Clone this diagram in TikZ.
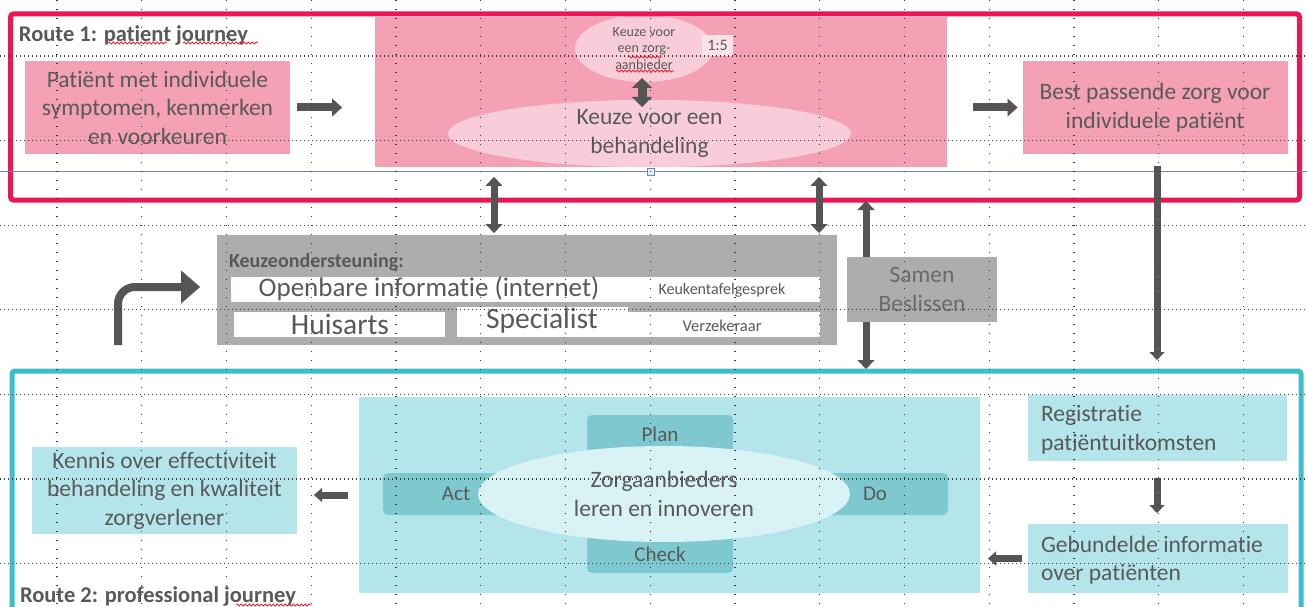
\documentclass[tikz,border=0pt]{standalone}
\usepackage{fontspec}
\setmainfont{Carlito}[Ligatures=NoCommon]
\usetikzlibrary{arrows.meta,decorations.pathmorphing,shapes.geometric}
\definecolor{rframe}{RGB}{236,22,84}
\definecolor{pinkfill}{RGB}{244,161,182}
\definecolor{lpink}{RGB}{249,204,217}
\definecolor{vlpink}{RGB}{252,226,234}
\definecolor{grayfill}{RGB}{174,172,173}
\definecolor{txtgray}{RGB}{89,89,89}
\definecolor{arrgray}{RGB}{85,85,85}
\definecolor{tframe}{RGB}{59,191,206}
\definecolor{tealfill}{RGB}{179,229,234}
\definecolor{pdcafill}{RGB}{126,201,207}
\definecolor{pdcaell}{RGB}{216,242,245}
\definecolor{selblue}{RGB}{110,135,173}
\definecolor{gridcol}{RGB}{60,60,60}
\definecolor{spellred}{RGB}{230,40,40}
\tikzset{
  base/.style={inner sep=0pt, outer sep=0pt, text=txtgray, align=center},
  maintxt/.style={font=\fontsize{23.5}{28.5}\selectfont},
  pinkbox/.style={base, maintxt, fill=pinkfill},
  tealbox/.style={base, maintxt, fill=tealfill},
  graybox/.style={base, fill=grayfill},
  whitebox/.style={base, fill=white},
  lpinkell/.style={base, ellipse, fill=lpink},
  pdcabox/.style={base, fill=pdcafill, rounded corners=5pt, font=\fontsize{21}{24}\selectfont},
  frame/.style={base, draw, line width=5pt, rounded corners=3pt},
  routelbl/.style={base, anchor=west, font=\fontsize{22.5}{26}\bfseries\selectfont},
  fat/.style={draw=arrgray, line width=8pt, -{Triangle[length=10pt,width=18pt,line width=0.1pt]}},
  fatdbl/.style={draw=arrgray, line width=9pt, {Triangle[length=10pt,width=20pt,line width=0.1pt]}-{Triangle[length=10pt,width=20pt,line width=0.1pt]}},
  vdbl/.style={draw=arrgray, line width=7pt, {Triangle[length=9pt,width=17pt,line width=0.1pt]}-{Triangle[length=9pt,width=17pt,line width=0.1pt]}},
  thinarr/.style={draw=arrgray, line width=7pt, -{Triangle[length=8pt,width=15pt,line width=0.1pt]}},
  smallarr/.style={draw=arrgray, line width=7pt, -{Triangle[length=8pt,width=14pt,line width=0.1pt]}},
  bentarr/.style={draw=arrgray, line width=8pt, rounded corners=17pt, -{Triangle[length=19pt,width=33pt,line width=0.1pt]}},
  gridv/.style={draw=gridcol, line width=1.3pt, dash pattern=on 1.3pt off 7.7pt},
  gridh/.style={draw=gridcol, line width=1.3pt, dash pattern=on 1.2pt off 2.8pt},
  wavy/.style={draw=spellred, line width=0.8pt, decorate, decoration={snake, amplitude=1pt, segment length=4pt}}
}
\begin{document}
\begin{tikzpicture}[x=1pt, y=-1pt]
\clip (0,0) rectangle (1307,607);
\fill[white] (0,0) rectangle (1307,607);

% ---------- Route 1 ----------
\node[pinkbox, minimum width=265pt, minimum height=93pt] (pat) at (157.5,107.5) {Patiënt met individuele\\symptomen, kenmerken\\en voorkeuren};
\node[pinkbox, minimum width=572pt, minimum height=150pt] (keuzerect) at (661,92) {};
\node[lpinkell, minimum width=138pt, minimum height=67pt, font=\fontsize{14}{16.5}\selectfont] (zorgell) at (644,48.5) {Keuze voor\\een zorg-\\aanbieder};
\node[base, fill=vlpink, minimum width=31pt, minimum height=21pt, font=\fontsize{16}{18}\selectfont] (ratio) at (717.5,45.5) {1:5};
\node[lpinkell, maintxt, minimum width=403pt, minimum height=67pt] (behell) at (649.5,133.5) {Keuze voor een\\behandeling};
\node[pinkbox, minimum width=265pt, minimum height=93pt] (best) at (1155,107.5) {Best passende zorg voor\\individuele patiënt};
\node[frame, draw=rframe, minimum width=1289pt, minimum height=186pt] (route1) at (655,107) {};
\node[routelbl] (r1lbl) at (19,36) {Route 1: patient journey};

\coordinate (zA) at (642,78);
\coordinate (zB) at (642,107);
\draw[fatdbl] (zA) -- (zB);
\draw[fat] ([xshift=7pt]pat.east) -- ([xshift=-33pt]keuzerect.west |- pat.east);
\draw[fat] ([xshift=26pt]keuzerect.east |- best.west) -- ([xshift=-5pt]best.west);

% selection line
\draw[selblue, line width=1pt] (0,172) -- (1307,172);
\node[draw=selblue, fill=white!85!selblue, line width=0.8pt, minimum size=7pt, inner sep=0pt] (handle) at (651,172) {};

% ---------- middle ----------
\coordinate (d1a) at (494,177);
\coordinate (d1b) at (494,233);
\coordinate (d2a) at (819,177);
\coordinate (d2b) at (819,233);
\coordinate (d3a) at (866,201);
\coordinate (d3b) at (866,369);
\coordinate (dnA) at (1157,166);
\coordinate (dnB) at (1157,360);
\draw[vdbl] (d1a) -- (d1b);
\draw[vdbl] (d2a) -- (d2b);
\draw[vdbl] (d3a) -- (d3b);
\draw[thinarr] (dnA) -- (dnB);

\node[graybox, minimum width=620pt, minimum height=110pt] (keuzeond) at (527,290) {};
\node[base, anchor=west, font=\fontsize{20}{22}\bfseries\selectfont] (kolbl) at (229,262) {Keuzeondersteuning:};
\node[whitebox, minimum width=397pt, minimum height=25pt] (openb) at (429.5,289.5) {};
\node[whitebox, minimum width=192pt, minimum height=25pt] (keuk) at (724,289.5) {};
\node[whitebox, minimum width=211pt, minimum height=25pt] (huis) at (339.5,324.5) {};
\node[whitebox, minimum width=171pt, minimum height=30pt] (spec) at (542.5,322) {};
\node[whitebox, minimum width=192pt, minimum height=25pt] (verz) at (724,324.5) {};
\node[base, font=\fontsize{27}{28}\selectfont] at (429,289) {Openbare informatie (internet)};
\node[base, font=\fontsize{16}{18}\selectfont] at (722,290) {Keukentafelgesprek};
\node[base, font=\fontsize{29.5}{30}\selectfont] at (340,324) {Huisarts};
\node[base, font=\fontsize{29.5}{30}\selectfont] at (542,321) {Specialist};
\node[base, font=\fontsize{16.5}{18}\selectfont] at (722,326) {Verzekeraar};

\node[graybox, maintxt, text=txtgray!90!white, minimum width=150pt, minimum height=65pt] (samen) at (922,289.5) {Samen\\Beslissen};

\coordinate (bentA) at (118,345);
\coordinate (bentB) at (200,287);
\draw[bentarr] (bentA) |- (bentB);

% ---------- Route 2 ----------
\node[frame, draw=tframe, minimum width=1289pt, minimum height=270pt] (route2) at (656.5,506) {};
\node[tealbox, minimum width=621pt, minimum height=196pt] (pdca) at (669.5,495) {};
\node[pdcabox, minimum width=146pt, minimum height=38pt] (plan) at (660,434) {Plan};
\node[pdcabox, minimum width=146pt, minimum height=38pt] (check) at (660,554) {Check};
\node[pdcabox, minimum width=146pt, minimum height=42pt] (act) at (456,494) {Act};
\node[pdcabox, minimum width=146pt, minimum height=42pt] (do) at (875,494) {Do};
\node[base, maintxt, ellipse, fill=pdcaell, minimum width=372pt, minimum height=96pt] (zorg) at (664,494) {Zorgaanbieders\\leren en innoveren};

\node[tealbox, minimum width=265pt, minimum height=87pt] (kennis) at (164.5,490.5) {Kennis over effectiviteit\\behandeling en kwaliteit\\zorgverlener};
\node[tealbox, minimum width=259pt, minimum height=66pt] (regis) at (1157.5,428) {};
\node[base, maintxt, anchor=west, align=left] at (1041,430) {Registratie\\patiëntuitkomsten};
\node[tealbox, minimum width=260pt, minimum height=69pt] (gebun) at (1158,558.5) {};
\node[base, maintxt, anchor=west, align=left] at (1041,560) {Gebundelde informatie\\over patiënten};

\draw[smallarr] ([xshift=-11pt]pdca.west) -- ([xshift=17pt]kennis.east |- pdca.west);
\draw[smallarr] ([xshift=-6pt]gebun.west) -- ([xshift=8pt]pdca.east |- gebun.west);
\draw[thinarr] ([yshift=-17pt]regis.south -| dnA) -- ([yshift=11pt]gebun.north -| dnA);

\node[routelbl] (r2lbl) at (20,597) {Route 2: professional journey};

% spell-check underlines
\draw[wavy] (108,43) -- (167,43);
\draw[wavy] (183,43) -- (258,43);
\draw[wavy] (628,57) -- (662,57);
\draw[wavy] (616,71) -- (674,71);
\draw[wavy] (236,605) -- (311,605);

% guide grid
\foreach \i in {0,...,14} \draw[gridv] ({57+84.75*\i},0) -- ({57+84.75*\i},607);
\foreach \j in {0,...,6} \draw[gridh] (0,{56+84.6*\j}) -- (1307,{56+84.6*\j});
\end{tikzpicture}
\end{document}
